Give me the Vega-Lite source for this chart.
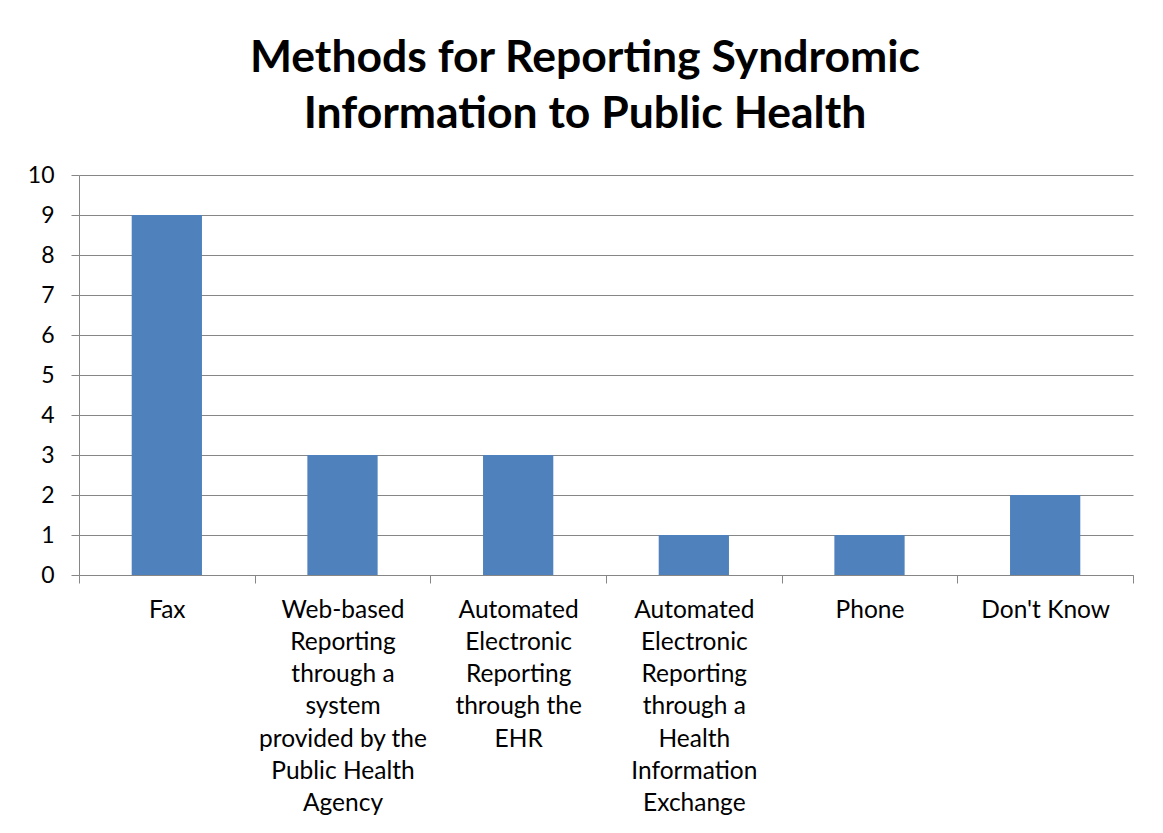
{
  "$schema": "https://vega.github.io/schema/vega-lite/v6.json",
  "autosize": "none",
  "width": 1054,
  "height": 400,
  "padding": {"left": 79, "top": 175, "right": 30, "bottom": 258},
  "background": "white",
  "title": {
    "text": ["Methods for Reporting Syndromic", "Information to Public Health"],
    "font": "Lato",
    "fontWeight": "bold",
    "fontSize": 44.5,
    "lineHeight": 56,
    "color": "#000000",
    "anchor": "middle",
    "dx": -21,
    "dy": 57,
    "offset": 40,
    "baseline": "bottom"
  },
  "data": {
    "values": [
      {"method": "Fax", "count": 9},
      {"method": "Web-based\nReporting\nthrough a\nsystem\nprovided by the\nPublic Health\nAgency", "count": 3},
      {"method": "Automated\nElectronic\nReporting\nthrough the\nEHR", "count": 3},
      {"method": "Automated\nElectronic\nReporting\nthrough a\nHealth\nInformation\nExchange", "count": 1},
      {"method": "Phone", "count": 1},
      {"method": "Don't Know", "count": 2}
    ]
  },
  "mark": {"type": "bar", "color": "#4F81BD", "width": {"band": 0.4}},
  "encoding": {
    "x": {
      "field": "method",
      "type": "nominal",
      "sort": null,
      "scale": {"paddingInner": 0, "paddingOuter": 0},
      "axis": {
        "title": null,
        "labelAngle": 0,
        "labelExpr": "split(datum.label, '\\n')",
        "labelFont": "Lato",
        "labelFontSize": 24.5,
        "labelLineHeight": 32.3,
        "labelColor": "#000000",
        "labelPadding": 15,
        "labelLimit": 0,
        "labelBaseline": "top",
        "tickBand": "extent",
        "tickSize": 8,
        "tickColor": "#868686",
        "domainColor": "#868686",
        "grid": false
      }
    },
    "y": {
      "field": "count",
      "type": "quantitative",
      "scale": {"domain": [0, 10], "nice": false},
      "axis": {
        "title": null,
        "values": [0, 1, 2, 3, 4, 5, 6, 7, 8, 9, 10],
        "labelFont": "Lato",
        "labelFontSize": 23,
        "labelColor": "#000000",
        "labelPadding": 17,
        "tickSize": 8,
        "tickColor": "#868686",
        "domainColor": "#868686",
        "grid": true,
        "gridColor": "#868686",
        "gridOpacity": 1
      }
    }
  },
  "config": {
    "view": {"stroke": null}
  }
}
